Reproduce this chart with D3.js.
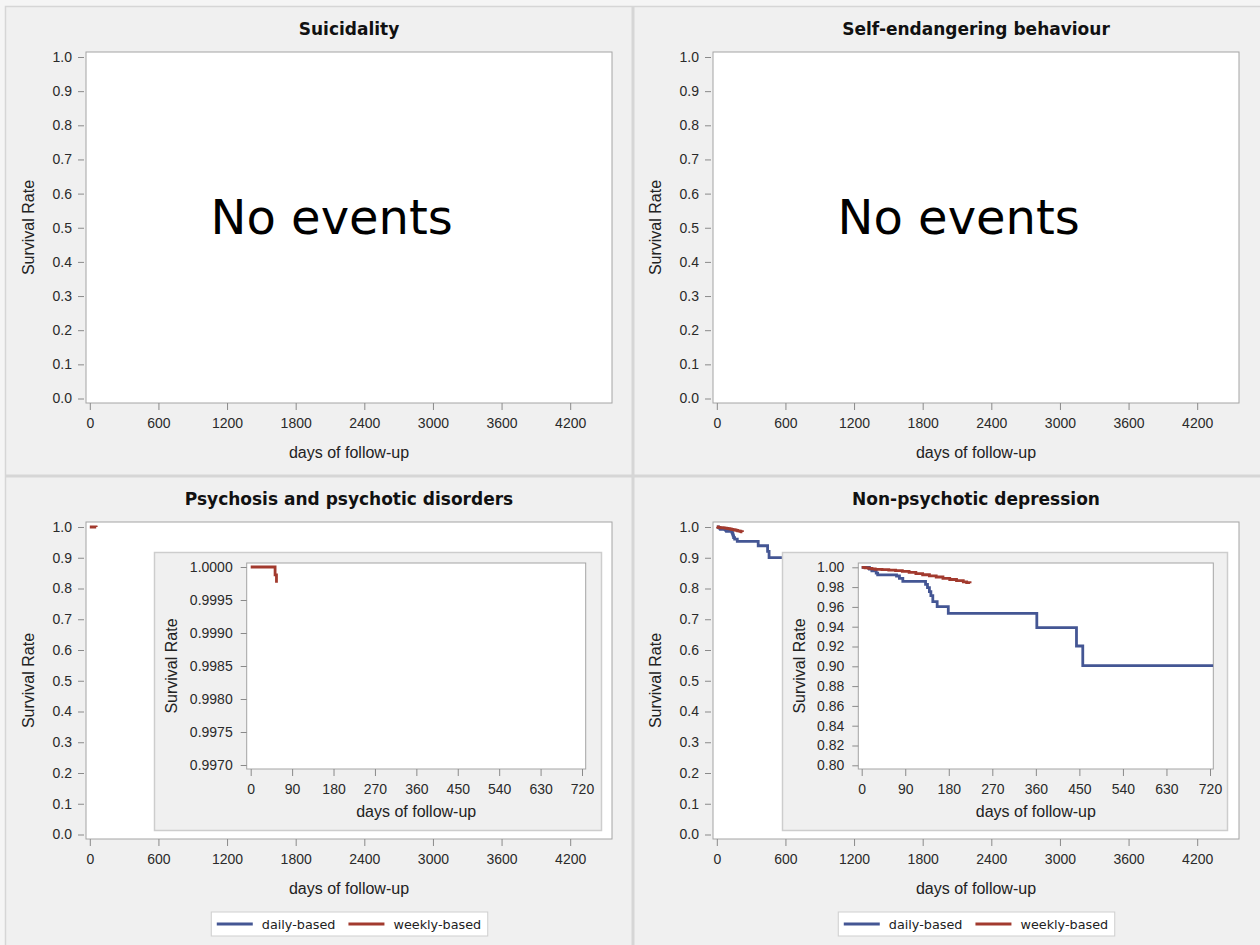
<!DOCTYPE html>
<html>
<head>
<meta charset="utf-8">
<script src="https://cdn.jsdelivr.net/npm/d3@7"></script>
<style>
  html, body { margin: 0; padding: 0; background: #f5f5f5; }
  svg { display: block; }
</style>
</head>
<body>
<svg id="fig" width="1260" height="945"></svg>
<script>
// ---- chart content ----
const panelTitles = [
  "Suicidality",
  "Self-endangering behaviour",
  "Psychosis and psychotic disorders",
  "Non-psychotic depression"
];
const seriesNames = ["daily-based", "weekly-based"];
const noEventsLabel = "No events";

const mainXTicks = [0, 600, 1200, 1800, 2400, 3000, 3600, 4200];
const mainYTicks = [0.0, 0.1, 0.2, 0.3, 0.4, 0.5, 0.6, 0.7, 0.8, 0.9, 1.0];
const insetXTicks = [0, 90, 180, 270, 360, 450, 540, 630, 720];
const psychInsetYTicks = [0.9970, 0.9975, 0.9980, 0.9985, 0.9990, 0.9995, 1.0000];
const depInsetYTicks = [0.80, 0.82, 0.84, 0.86, 0.88, 0.90, 0.92, 0.94, 0.96, 0.98, 1.00];

// Kaplan-Meier estimates (day, survival) — psychosis, weekly-based
const psychWeeklyDays = [0, 53, 56];
const psychWeeklySurv = [1.0, 0.99988, 0.99976];

// non-psychotic depression, daily-based
const depDailyDays = [0, 16, 21, 30, 33, 72, 78, 85, 132, 136, 140, 143, 147, 156, 179, 362, 444, 457, 727];
const depDailySurv = [1.0, 0.9983, 0.9963, 0.9942, 0.9923, 0.9912, 0.9889, 0.9858, 0.9828, 0.9795,
                      0.9754, 0.9714, 0.9653, 0.9603, 0.9535, 0.9390, 0.9205, 0.9007, 0.9007];

// non-psychotic depression, weekly-based
const depWeeklyDays = [0, 7, 14, 21, 28, 42, 56, 70, 84, 98, 112, 126, 140, 154, 168, 182, 196, 210, 217, 224];
const depWeeklySurv = [1.0, 0.9995, 0.9990, 0.9985, 0.9980, 0.9976, 0.9971, 0.9966, 0.9958, 0.9948,
                       0.9936, 0.9925, 0.9914, 0.9902, 0.9889, 0.9877, 0.9866, 0.9852, 0.9845, 0.9838];

// ---- style ----
const COLOR_DAILY = "#445694";
const COLOR_WEEKLY = "#a23a2e";
const TICK_FONT = "'Liberation Sans', Arial, sans-serif";
const TITLE_FONT = "'DejaVu Sans', Verdana, sans-serif";
const PANEL_BG = "#f0f0f0";

const svg = d3.select("#fig");

// panel backgrounds and dividers
svg.append("rect").attr("x", 5.5).attr("y", 6.5).attr("width", 1260).attr("height", 945)
  .attr("fill", PANEL_BG).attr("stroke", "#d6d6d6").attr("stroke-width", 1.5);
svg.append("line").attr("x1", 633).attr("x2", 633).attr("y1", 6).attr("y2", 945)
  .attr("stroke", "#d6d6d6").attr("stroke-width", 3);
svg.append("line").attr("x1", 5).attr("x2", 1260).attr("y1", 476).attr("y2", 476)
  .attr("stroke", "#d6d6d6").attr("stroke-width", 3);

const cols = [{ fx0: 86, fx1: 612 }, { fx0: 713, fx1: 1239 }];
const rows = [
  { fy0: 52, fy1: 403, titleY: 35 },
  { fy0: 522, fy1: 839, titleY: 505 }
];

const stepLine = (x, y) => d3.line().x(d => x(d[0])).y(d => y(d[1])).curve(d3.curveStepAfter);
const zipSeries = (days, surv) => days.map((d, i) => [d, surv[i]]);

let clipId = 0;

function styleAxis(g, fontSize) {
  g.select(".domain").remove();
  g.selectAll(".tick line").attr("stroke", "#8a8a8a");
  g.selectAll(".tick text").attr("fill", "#2a2a2a").attr("font-family", TICK_FONT)
    .attr("font-size", fontSize);
}

// draws a framed plot area with axes; returns the scales
function plotArea(g, o) {
  const x = d3.scaleLinear().domain(o.xDomain).range(o.xRange);
  const y = d3.scaleLinear().domain(o.yDomain).range(o.yRange);
  g.append("rect").attr("x", o.fx0).attr("y", o.fy0)
    .attr("width", o.fx1 - o.fx0).attr("height", o.fy1 - o.fy0)
    .attr("fill", "#fff").attr("stroke", "#a4a4a4").attr("stroke-width", 1);

  const gy = g.append("g").attr("transform", `translate(${o.fx0 - o.yGap},0)`)
    .call(d3.axisLeft(y).tickValues(o.yTicks).tickFormat(d3.format(o.yFmt))
      .tickSize(6).tickSizeOuter(0).tickPadding(o.yPad));
  styleAxis(gy, 14);

  const gx = g.append("g").attr("transform", `translate(0,${o.fy1})`)
    .call(d3.axisBottom(x).tickValues(o.xTicks).tickFormat(d3.format("d"))
      .tickSize(7).tickSizeOuter(0).tickPadding(8));
  styleAxis(gx, 14);

  g.append("text").attr("x", (o.fx0 + o.fx1) / 2).attr("y", o.fy1 + o.xLabelGap)
    .attr("text-anchor", "middle").attr("font-family", TICK_FONT).attr("font-size", 16)
    .attr("fill", "#222").text("days of follow-up");

  g.append("text")
    .attr("transform", `translate(${o.yLabelX},${(o.fy0 + o.fy1) / 2}) rotate(-90)`)
    .attr("text-anchor", "middle").attr("font-family", TICK_FONT).attr("font-size", 16)
    .attr("fill", "#222").text("Survival Rate");

  const id = "clip" + (clipId++);
  g.append("clipPath").attr("id", id).append("rect")
    .attr("x", o.fx0).attr("y", o.fy0).attr("width", o.fx1 - o.fx0).attr("height", o.fy1 - o.fy0);
  const plot = g.append("g").attr("clip-path", `url(#${id})`);
  return { x, y, plot };
}

function drawSeries(area, data, color) {
  area.plot.append("path").datum(data)
    .attr("d", stepLine(area.x, area.y))
    .attr("fill", "none").attr("stroke", color).attr("stroke-width", 2.8)
    .attr("stroke-linejoin", "miter");
}

function drawLegend(g, cx, y) {
  const lg = g.append("g");
  const items = [{ name: seriesNames[0], color: COLOR_DAILY }, { name: seriesNames[1], color: COLOR_WEEKLY }];
  const pad = 6, lineW = 36, gapText = 9, gapItem = 13;
  let cur = pad;
  const parts = [];
  items.forEach((it, i) => {
    const ln = lg.append("line").attr("stroke", it.color).attr("stroke-width", 2.8);
    const tx = lg.append("text").attr("font-family", TITLE_FONT).attr("font-size", 12.8)
      .attr("fill", "#222").text(it.name);
    const tw = tx.node().getComputedTextLength();
    parts.push({ ln, tx, x: cur, tw });
    cur += lineW + gapText + tw + (i < items.length - 1 ? gapItem : 0);
  });
  const boxW = cur + pad;
  const x0 = cx - boxW / 2;
  lg.insert("rect", ":first-child").attr("x", x0 + 0.5).attr("y", y - 12).attr("width", boxW)
    .attr("height", 24).attr("fill", "#fff").attr("stroke", "#cfcfcf");
  parts.forEach(p => {
    p.ln.attr("x1", x0 + p.x).attr("x2", x0 + p.x + lineW).attr("y1", y).attr("y2", y);
    p.tx.attr("x", x0 + p.x + lineW + gapText).attr("y", y + 4.5);
  });
}

// ---- four panels ----
panelTitles.forEach((title, i) => {
  const c = cols[i % 2], r = rows[Math.floor(i / 2)];
  const g = svg.append("g");
  const shift = i % 2 === 0 ? 0 : 627;

  g.append("text").attr("x", (c.fx0 + c.fx1) / 2).attr("y", r.titleY)
    .attr("text-anchor", "middle").attr("font-family", TITLE_FONT).attr("font-weight", "bold")
    .attr("font-size", 17).attr("fill", "#111").text(title);

  const area = plotArea(g, {
    fx0: c.fx0, fx1: c.fx1, fy0: r.fy0, fy1: r.fy1,
    xDomain: [0, 4200], xRange: [c.fx0 + 3.8, c.fx0 + 484.2],
    yDomain: [0, 1], yRange: [r.fy1 - 4.5, r.fy0 + 5],
    xTicks: mainXTicks, yTicks: mainYTicks, yFmt: ".1f",
    yGap: 2, yPad: 6, xLabelGap: 55, yLabelX: 33.5 + shift
  });

  if (i < 2) {
    g.append("text").attr("x", area.x(2115)).attr("y", area.y(0.482))
      .attr("text-anchor", "middle").attr("font-family", TITLE_FONT).attr("font-size", 48)
      .attr("fill", "#000").text(noEventsLabel);
    return;
  }

  drawLegend(g, (c.fx0 + c.fx1) / 2, 924);

  if (i === 2) {
    drawSeries(area, zipSeries(psychWeeklyDays, psychWeeklySurv), COLOR_WEEKLY);
    // zoomed inset
    const ig = g.append("g");
    ig.append("rect").attr("x", 154.5).attr("y", 552.5).attr("width", 447).attr("height", 278)
      .attr("fill", PANEL_BG).attr("stroke", "#cdcdcd").attr("stroke-width", 1.5);
    const ia = plotArea(ig, {
      fx0: 246.7, fx1: 585.7, fy0: 563, fy1: 769,
      xDomain: [0, 720], xRange: [250.7, 582],
      yDomain: [0.9970, 1.0000], yRange: [765, 567],
      xTicks: insetXTicks, yTicks: psychInsetYTicks, yFmt: ".4f",
      yGap: 0, yPad: 8, xLabelGap: 48, yLabelX: 176.5
    });
    drawSeries(ia, zipSeries(psychWeeklyDays, psychWeeklySurv), COLOR_WEEKLY);
  } else {
    drawSeries(area, zipSeries(depDailyDays, depDailySurv), COLOR_DAILY);
    drawSeries(area, zipSeries(depWeeklyDays, depWeeklySurv), COLOR_WEEKLY);
    const ig = g.append("g");
    ig.append("rect").attr("x", 782.5).attr("y", 552.5).attr("width", 445).attr("height", 278)
      .attr("fill", PANEL_BG).attr("stroke", "#cdcdcd").attr("stroke-width", 1.5);
    const ia = plotArea(ig, {
      fx0: 858.3, fx1: 1213.3, fy0: 563, fy1: 769,
      xDomain: [0, 720], xRange: [861.7, 1210],
      yDomain: [0.80, 1.00], yRange: [765.3, 567.3],
      xTicks: insetXTicks, yTicks: depInsetYTicks, yFmt: ".2f",
      yGap: 0, yPad: 8, xLabelGap: 48, yLabelX: 804.5
    });
    drawSeries(ia, zipSeries(depDailyDays, depDailySurv), COLOR_DAILY);
    drawSeries(ia, zipSeries(depWeeklyDays, depWeeklySurv), COLOR_WEEKLY);
  }
});
</script>
</body>
</html>
